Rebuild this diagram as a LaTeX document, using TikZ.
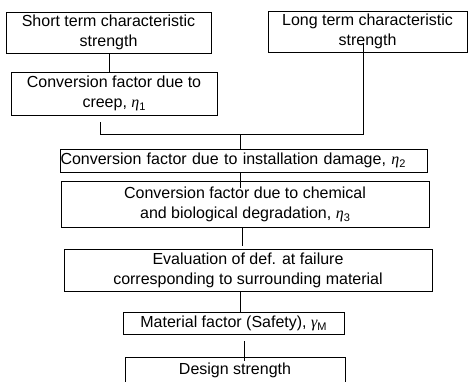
\documentclass[tikz,border=0pt]{standalone}
\usepackage{fontspec}
\setmainfont{Liberation Sans}
\newfontfamily\grkfont{Liberation Serif}
\newcommand{\gsym}[2]{{\grkfont\itshape #1}\raisebox{-0.35ex}{\fontsize{11}{11}\selectfont #2}}
\begin{document}
\begin{tikzpicture}[x=1pt,y=-1pt,
  box/.style={draw, line width=1pt, rectangle, inner sep=0pt, align=center, font=\fontsize{16}{20}\selectfont},
  conn/.style={line width=1pt}]
\useasboundingbox (0,0) rectangle (468,381);
\clip (0,0) rectangle (468,381);

\node[box, minimum width=205pt, minimum height=41pt] (short) at (108.5,32.5) {Short term characteristic\\strength};
\node[box, minimum width=199pt, minimum height=41pt] (long) at (367.5,31.5) {Long term characteristic\\strength};
\node[box, minimum width=206pt, minimum height=43pt] (creep) at (114,93.5) {Conversion factor due to\\creep, \gsym{η}{1}};
\node[box, text width=366pt, inner xsep=0.5pt, align=left, minimum height=23pt] (inst) at (243.5,160.5) {Conversion factor due to installation damage, \gsym{η}{2}};
\node[box, minimum width=368pt, minimum height=46pt] (chem) at (245,204) {Conversion factor due to chemical\\and biological degradation, \gsym{η}{3}};
\node[box, minimum width=368pt, minimum height=42pt] (eval) at (248,270) {Evaluation of def. at failure\\corresponding to surrounding material};
\node[box, minimum width=221pt, minimum height=22pt] (mat) at (233.5,323) {Material factor (Safety), \gsym{γ}{M}};
\node[box, minimum width=220pt, text height=17pt, text depth=24pt, anchor=north] (design) at (235,357) {Design strength};

\coordinate (sc) at (109,0);
\coordinate (m1) at (100.7,122);
\coordinate (mL) at (100.7,134);
\coordinate (mR) at (363,134);
\coordinate (lt) at (363,43);
\coordinate (mC) at (240.7,134);
\coordinate (ic) at (240.7,188);
\coordinate (ce) at (242.3,245.7);
\coordinate (em) at (240.7,0);
\coordinate (md1) at (244.3,341);
\coordinate (md2) at (244.3,361);

\draw[conn] (short.south -| sc) -- (creep.north -| sc);
\draw[conn] (m1) -- (mL) -- (mR) -- (lt);
\draw[conn] (mC) -- (mC |- inst.north);
\draw[conn] (inst.south -| ic) -- (ic);
\draw[conn] (chem.south -| ce) -- (ce);
\draw[conn] (eval.south -| em) -- (mat.north -| em);
\draw[conn] (md1) -- (md2);
\end{tikzpicture}
\end{document}
